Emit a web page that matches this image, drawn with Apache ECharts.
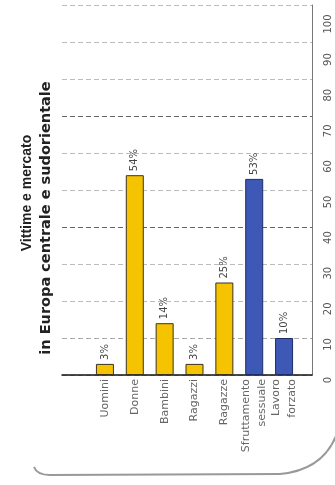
<!DOCTYPE html>
<html>
<head>
<meta charset="utf-8">
<script src="https://cdn.jsdelivr.net/npm/echarts@6/dist/echarts.min.js"></script>
<style>
  html, body { margin: 0; padding: 0; background: #fff; }
  #chart { width: 335px; height: 485px; }
</style>
</head>
<body>
<div id="chart"></div>
<script>
// data (chart is printed turned on its side)
var categories = ['Uomini', 'Donne', 'Bambini', 'Ragazzi', 'Ragazze', 'Sfruttamento\nsessuale', 'Lavoro\nforzato'];
var values = [3, 54, 14, 3, 25, 53, 10];
var groups = ['vittime', 'vittime', 'vittime', 'vittime', 'vittime', 'mercato', 'mercato'];
var titleLines = ['Vittime e mercato', 'in Europa centrale e sudorientale'];

var groupColors = {
  vittime: { fill: '#F6C300', border: '#3a3320' },
  mercato: { fill: '#3D58B5', border: '#1e2c66' }
};

var chartDom = document.getElementById('chart');
var myChart = echarts.init(chartDom);

var barData = values.map(function (v, i) {
  var c = groupColors[groups[i]];
  return { value: v, itemStyle: { color: c.fill, borderColor: c.border, borderWidth: 1 } };
});

var frameStyle = { stroke: '#999', lineWidth: 2, fill: 'none' };
// grid lines at 0..100, the ones at 40 and 70 are printed darker
var gridColors = ['#bbb', '#aaa', '#bbb', '#bbb', '#666', '#bbb', '#bbb', '#666', '#bbb', '#bbb', '#bbb'];

var option = {
  animation: false,
  backgroundColor: '#fff',
  grid: [
    { left: 90, right: 36, top: 5, bottom: 110 },  // bars
    { left: 62, right: 23, top: 5, bottom: 110 },  // grid lines + frame
    { left: 62, right: 23, top: 24, bottom: 105 }  // tick labels (they sit a bit off the lines)
  ],
  xAxis: [
    {
      gridIndex: 0,
      type: 'category',
      data: categories,
      axisLine: { show: false },
      axisTick: { show: false },
      axisLabel: {
        interval: 0,
        rotate: 90,
        margin: 4,
        fontFamily: 'DejaVu Sans',
        fontSize: 11,
        lineHeight: 16,
        color: '#666'
      }
    },
    {
      gridIndex: 1,
      type: 'value',
      min: 0,
      max: 100,
      axisLine: { show: true, onZero: false, lineStyle: { color: '#111', width: 1.5 } },
      axisTick: { show: false },
      axisLabel: { show: false },
      splitLine: { show: false }
    },
    { gridIndex: 2, type: 'value', show: false }
  ],
  yAxis: [
    { gridIndex: 0, type: 'value', min: 0, max: 100, show: false },
    {
      gridIndex: 1,
      type: 'value',
      min: 0,
      max: 100,
      interval: 10,
      position: 'right',
      axisLine: { show: true, onZero: false, lineStyle: { color: '#777', width: 1 } },
      axisTick: { show: false },
      axisLabel: { show: false },
      splitLine: {
        show: true,
        lineStyle: { color: gridColors, type: [5, 3], width: 1 }
      }
    },
    {
      gridIndex: 2,
      type: 'value',
      min: 0,
      max: 100,
      interval: 10,
      position: 'right',
      axisLine: { show: false },
      axisTick: { show: false },
      splitLine: { show: false },
      axisLabel: {
        rotate: 90,
        margin: 11,
        fontFamily: 'DejaVu Sans',
        fontSize: 10,
        color: '#555'
      }
    }
  ],
  graphic: [
    {
      type: 'text',
      x: 27,
      y: 193,
      rotation: Math.PI / 2,
      style: {
        text: titleLines[0],
        font: 'bold 14px "Liberation Sans"',
        fill: '#222',
        align: 'center',
        verticalAlign: 'middle'
      }
    },
    {
      type: 'text',
      x: 46,
      y: 218,
      rotation: Math.PI / 2,
      style: {
        text: titleLines[1],
        font: 'bold 14.5px "DejaVu Sans"',
        fill: '#222',
        align: 'center',
        verticalAlign: 'middle'
      }
    },
    // page frame curling round the bottom right corner
    {
      type: 'bezierCurve',
      shape: { x1: 34, y1: 467, cpx1: 37, cpy1: 475, x2: 50, y2: 475 },
      style: frameStyle
    },
    {
      type: 'line',
      shape: { x1: 50, y1: 475, x2: 280, y2: 474 },
      style: frameStyle
    },
    {
      type: 'bezierCurve',
      shape: { x1: 280, y1: 474, cpx1: 322, cpy1: 470, x2: 336, y2: 436 },
      style: frameStyle
    }
  ],
  series: [
    {
      type: 'bar',
      xAxisIndex: 0,
      yAxisIndex: 0,
      barWidth: 18,
      data: barData,
      label: {
        show: true,
        position: 'top',
        distance: 4,
        rotate: 90,
        align: 'left',
        verticalAlign: 'middle',
        formatter: '{c}%',
        fontFamily: 'DejaVu Sans',
        fontSize: 10,
        color: '#444'
      }
    }
  ]
};

myChart.setOption(option);
</script>
</body>
</html>
